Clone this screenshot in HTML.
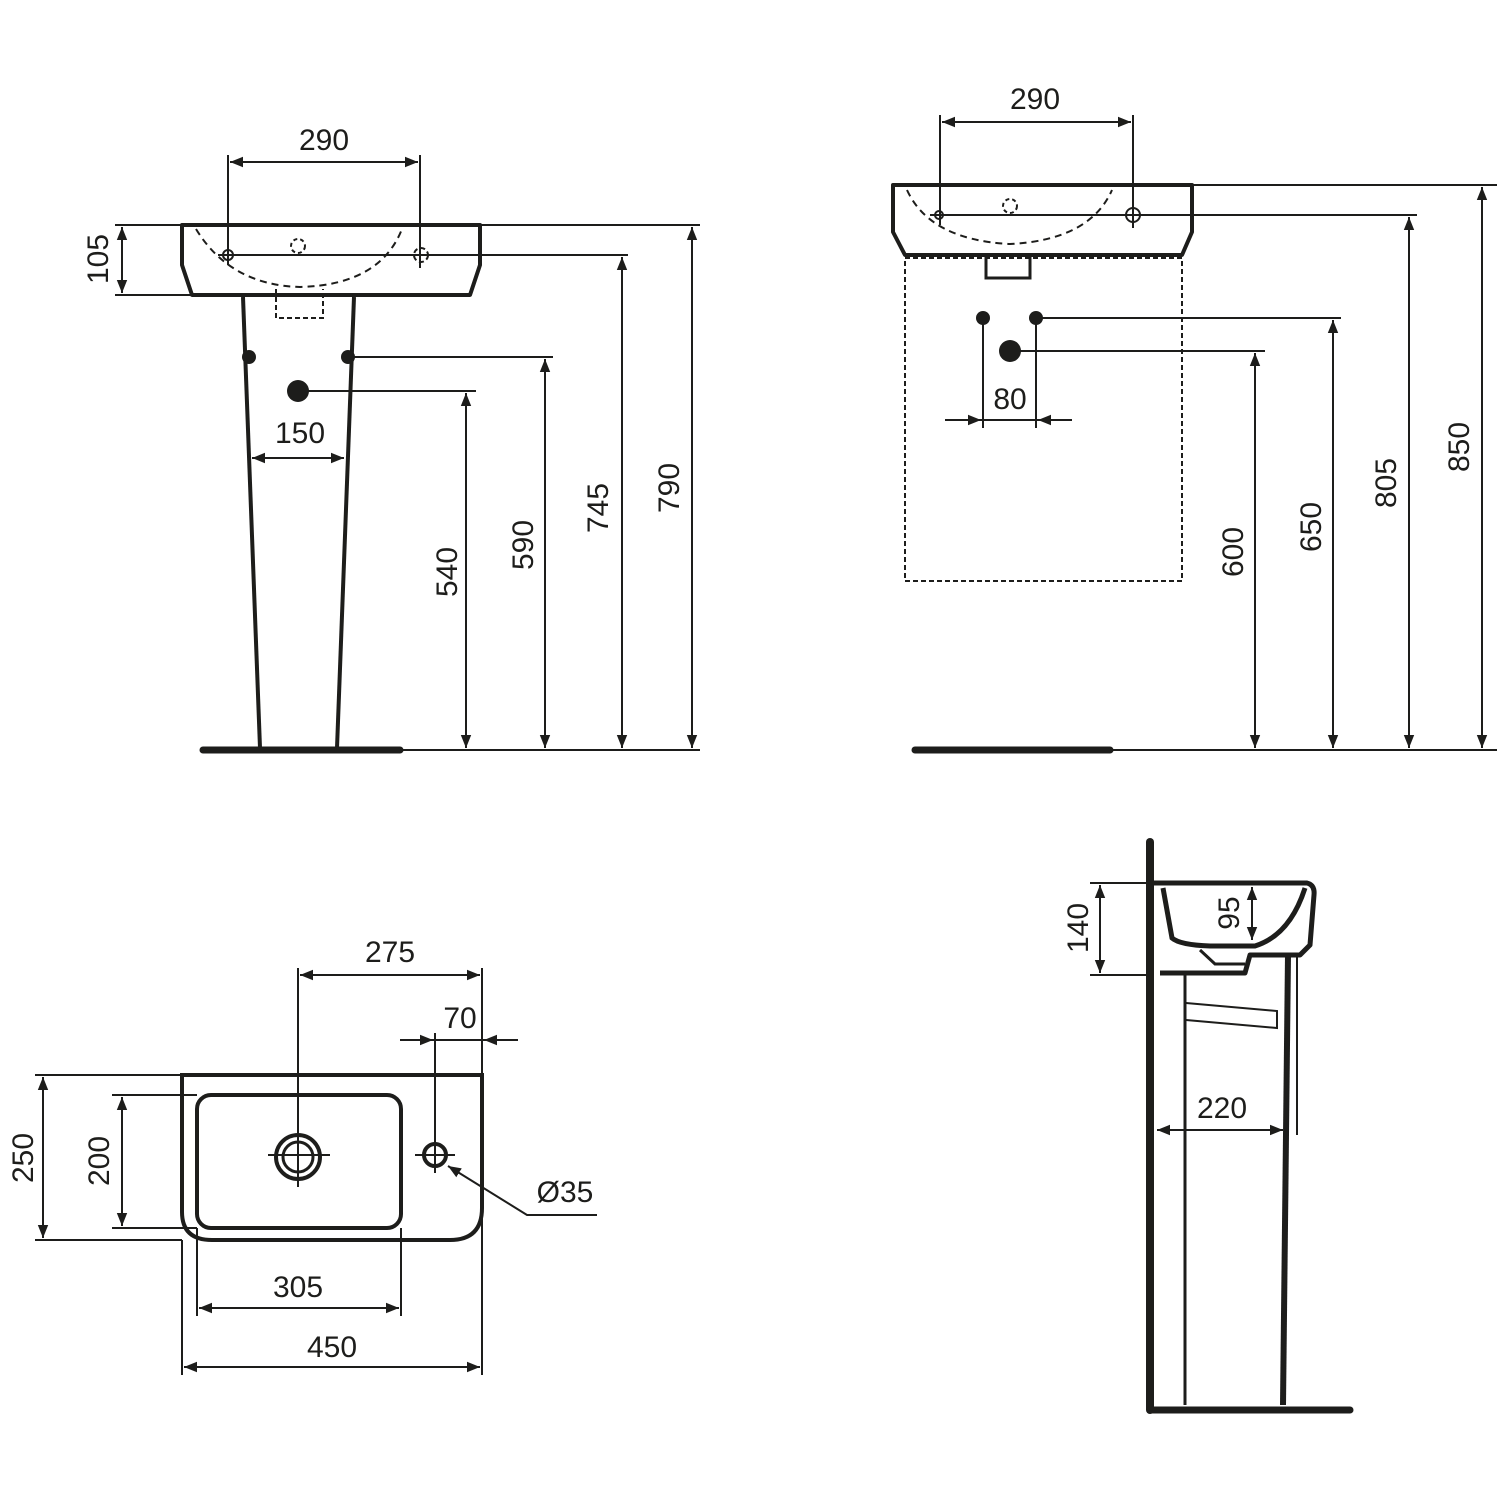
<!DOCTYPE html>
<html><head><meta charset="utf-8"><style>
html,body{margin:0;padding:0;background:#fff}
svg{display:block}
text{font-family:"Liberation Sans",sans-serif;font-size:30px;fill:#1d1d1b}
</style></head><body>
<svg width="1500" height="1500" viewBox="0 0 1500 1500" xmlns="http://www.w3.org/2000/svg">
<defs>
<marker id="a" viewBox="0 0 10 10" refX="10" refY="5" markerWidth="13" markerHeight="13" markerUnits="userSpaceOnUse" orient="auto-start-reverse"><path d="M0,1 L10,5 L0,9 Z" fill="#1d1d1b"/></marker>
</defs>
<g stroke="#1d1d1b" fill="none" stroke-width="2">
<!-- TOP LEFT -->
<path d="M182,225 L480,225 L480,265 L470,295 L192,295 L182,265 Z" stroke-width="4" stroke-linejoin="round"/>
<line x1="115" y1="225" x2="700" y2="225"/>
<line x1="218" y1="255" x2="628" y2="255"/>
<line x1="115" y1="295" x2="192" y2="295"/>
<line x1="122" y1="227" x2="122" y2="293" marker-start="url(#a)" marker-end="url(#a)"/>
<line x1="228" y1="155" x2="228" y2="265"/>
<line x1="420" y1="155" x2="420" y2="268"/>
<line x1="230" y1="162" x2="418" y2="162" marker-start="url(#a)" marker-end="url(#a)"/>
<path d="M196,229 Q230,285 300,287 Q380,285 402,229" stroke-dasharray="7,5"/>
<circle cx="298" cy="246" r="7" stroke-dasharray="4,3"/>
<circle cx="228" cy="255" r="5"/>
<circle cx="421" cy="255" r="7" stroke-dasharray="5,3"/>
<path d="M276,289 L276,318 L323,318 L323,289" stroke-dasharray="5,3"/>
<line x1="243" y1="297" x2="260" y2="748" stroke-width="4"/>
<line x1="354" y1="297" x2="337" y2="748" stroke-width="4"/>
<line x1="348" y1="357" x2="553" y2="357"/>
<line x1="298" y1="391" x2="476" y2="391"/>
<line x1="252" y1="458" x2="344" y2="458" marker-start="url(#a)" marker-end="url(#a)"/>
<line x1="466" y1="393" x2="466" y2="748" marker-start="url(#a)" marker-end="url(#a)"/>
<line x1="545" y1="359" x2="545" y2="748" marker-start="url(#a)" marker-end="url(#a)"/>
<line x1="622" y1="257" x2="622" y2="748" marker-start="url(#a)" marker-end="url(#a)"/>
<line x1="692" y1="227" x2="692" y2="748" marker-start="url(#a)" marker-end="url(#a)"/>
<line x1="200" y1="750" x2="700" y2="750"/>
<line x1="203" y1="750" x2="400" y2="750" stroke-width="7" stroke-linecap="round"/>
<!-- TOP RIGHT -->
<path d="M893,185 L1192,185 L1192,232 L1182,255 L905,255 L893,232 Z" stroke-width="4" stroke-linejoin="round"/>
<line x1="1192" y1="185" x2="1497" y2="185"/>
<line x1="930" y1="215" x2="1417" y2="215"/>
<line x1="940" y1="115" x2="940" y2="225"/>
<line x1="1133" y1="115" x2="1133" y2="228"/>
<line x1="942" y1="122" x2="1131" y2="122" marker-start="url(#a)" marker-end="url(#a)"/>
<path d="M907,190 Q930,240 1010,244 Q1090,240 1112,190" stroke-dasharray="7,5"/>
<circle cx="1010" cy="206" r="7" stroke-dasharray="4,3"/>
<circle cx="939" cy="215" r="4"/>
<circle cx="1133" cy="215" r="7"/>
<path d="M986,256 L986,278 L1030,278 L1030,256" stroke-width="3"/>
<rect x="905" y="258" width="277" height="323" stroke-dasharray="5,3"/>
<line x1="1036" y1="318" x2="1341" y2="318"/>
<line x1="1010" y1="351" x2="1265" y2="351"/>
<line x1="983" y1="318" x2="983" y2="428"/>
<line x1="1036" y1="318" x2="1036" y2="428"/>
<line x1="945" y1="420" x2="981" y2="420" marker-end="url(#a)"/>
<line x1="1072" y1="420" x2="1038" y2="420" marker-end="url(#a)"/>
<line x1="981" y1="420" x2="1038" y2="420"/>
<line x1="1255" y1="353" x2="1255" y2="748" marker-start="url(#a)" marker-end="url(#a)"/>
<line x1="1333" y1="320" x2="1333" y2="748" marker-start="url(#a)" marker-end="url(#a)"/>
<line x1="1409" y1="217" x2="1409" y2="748" marker-start="url(#a)" marker-end="url(#a)"/>
<line x1="1482" y1="187" x2="1482" y2="748" marker-start="url(#a)" marker-end="url(#a)"/>
<line x1="912" y1="750" x2="1497" y2="750"/>
<line x1="915" y1="750" x2="1110" y2="750" stroke-width="7" stroke-linecap="round"/>
<!-- BOTTOM LEFT -->
<path d="M182,1075 L482,1075 L482,1208 Q482,1240 450,1240 L212,1240 Q182,1240 182,1212 Z" stroke-width="4"/>
<rect x="197" y="1095" width="204" height="133" rx="14" stroke-width="4"/>
<circle cx="298" cy="1157" r="22" stroke-width="4"/>
<circle cx="298" cy="1157" r="15" stroke-width="3"/>
<line x1="268" y1="1155" x2="330" y2="1155"/>
<line x1="298" y1="968" x2="298" y2="1187"/>
<circle cx="435" cy="1155" r="11" stroke-width="4"/>
<line x1="415" y1="1155" x2="455" y2="1155"/>
<line x1="435" y1="1033" x2="435" y2="1173"/>
<path d="M597,1215 L527,1215 L448,1166" marker-end="url(#a)"/>
<line x1="482" y1="968" x2="482" y2="1075"/>
<line x1="300" y1="975" x2="480" y2="975" marker-start="url(#a)" marker-end="url(#a)"/>
<line x1="400" y1="1040" x2="433" y2="1040" marker-end="url(#a)"/>
<line x1="518" y1="1040" x2="484" y2="1040" marker-end="url(#a)"/>
<line x1="433" y1="1040" x2="484" y2="1040"/>
<line x1="482" y1="1033" x2="482" y2="1075"/>
<line x1="35" y1="1075" x2="182" y2="1075"/>
<line x1="35" y1="1240" x2="182" y2="1240"/>
<line x1="43" y1="1077" x2="43" y2="1238" marker-start="url(#a)" marker-end="url(#a)"/>
<line x1="112" y1="1095" x2="197" y2="1095"/>
<line x1="112" y1="1228" x2="197" y2="1228"/>
<line x1="122" y1="1097" x2="122" y2="1226" marker-start="url(#a)" marker-end="url(#a)"/>
<line x1="197" y1="1228" x2="197" y2="1316"/>
<line x1="401" y1="1228" x2="401" y2="1316"/>
<line x1="199" y1="1308" x2="399" y2="1308" marker-start="url(#a)" marker-end="url(#a)"/>
<line x1="182" y1="1240" x2="182" y2="1375"/>
<line x1="482" y1="1208" x2="482" y2="1375"/>
<line x1="184" y1="1367" x2="480" y2="1367" marker-start="url(#a)" marker-end="url(#a)"/>
<!-- BOTTOM RIGHT -->
<line x1="1150" y1="842" x2="1150" y2="1410" stroke-width="8" stroke-linecap="round"/>
<path d="M1150,883 L1307,883 Q1315,885 1314,895 L1310,945 L1300,955 L1250,955 L1245,973 L1160,973" stroke-width="5" stroke-linejoin="round"/>
<path d="M1163,888 L1172,938 Q1180,945 1210,946 L1255,946 Q1290,935 1305,888" stroke-width="5"/>
<path d="M1200,950 L1215,964 L1245,964" stroke-width="3"/>
<line x1="1185" y1="975" x2="1185" y2="1405" stroke-width="3"/>
<line x1="1288" y1="955" x2="1283" y2="1405" stroke-width="6"/>
<line x1="1297" y1="955" x2="1297" y2="1135"/>
<path d="M1186,1003 L1277,1011 L1277,1028 L1186,1020"/>
<line x1="1150" y1="1410" x2="1350" y2="1410" stroke-width="7" stroke-linecap="round"/>
<line x1="1090" y1="883" x2="1150" y2="883"/>
<line x1="1090" y1="975" x2="1150" y2="975"/>
<line x1="1100" y1="885" x2="1100" y2="973" marker-start="url(#a)" marker-end="url(#a)"/>
<line x1="1252" y1="887" x2="1252" y2="940" marker-start="url(#a)" marker-end="url(#a)"/>
<line x1="1157" y1="1130" x2="1283" y2="1130" marker-start="url(#a)" marker-end="url(#a)"/>
</g>
<g fill="#1d1d1b">
<circle cx="249" cy="357" r="7"/><circle cx="348" cy="357" r="7"/><circle cx="298" cy="391" r="11"/>
<circle cx="983" cy="318" r="7"/><circle cx="1036" cy="318" r="7"/><circle cx="1010" cy="351" r="11"/>
</g>
<text x="324" y="150" text-anchor="middle">290</text>
<text transform="translate(108,259) rotate(-90)" text-anchor="middle">105</text>
<text x="300" y="443" text-anchor="middle">150</text>
<text transform="translate(457,572) rotate(-90)" text-anchor="middle">540</text>
<text transform="translate(533,545) rotate(-90)" text-anchor="middle">590</text>
<text transform="translate(608,508) rotate(-90)" text-anchor="middle">745</text>
<text transform="translate(679,488) rotate(-90)" text-anchor="middle">790</text>
<text x="1035" y="109" text-anchor="middle">290</text>
<text x="1010" y="409" text-anchor="middle">80</text>
<text transform="translate(1243,552) rotate(-90)" text-anchor="middle">600</text>
<text transform="translate(1321,527) rotate(-90)" text-anchor="middle">650</text>
<text transform="translate(1396,483) rotate(-90)" text-anchor="middle">805</text>
<text transform="translate(1469,447) rotate(-90)" text-anchor="middle">850</text>
<text x="390" y="962" text-anchor="middle">275</text>
<text x="460" y="1028" text-anchor="middle">70</text>
<text x="565" y="1202" text-anchor="middle">Ø35</text>
<text transform="translate(33,1158) rotate(-90)" text-anchor="middle">250</text>
<text transform="translate(109,1161) rotate(-90)" text-anchor="middle">200</text>
<text x="298" y="1297" text-anchor="middle">305</text>
<text x="332" y="1357" text-anchor="middle">450</text>
<text transform="translate(1088,928) rotate(-90)" text-anchor="middle">140</text>
<text transform="translate(1239,913) rotate(-90)" text-anchor="middle">95</text>
<text x="1222" y="1118" text-anchor="middle">220</text>
</svg>
</body></html>
